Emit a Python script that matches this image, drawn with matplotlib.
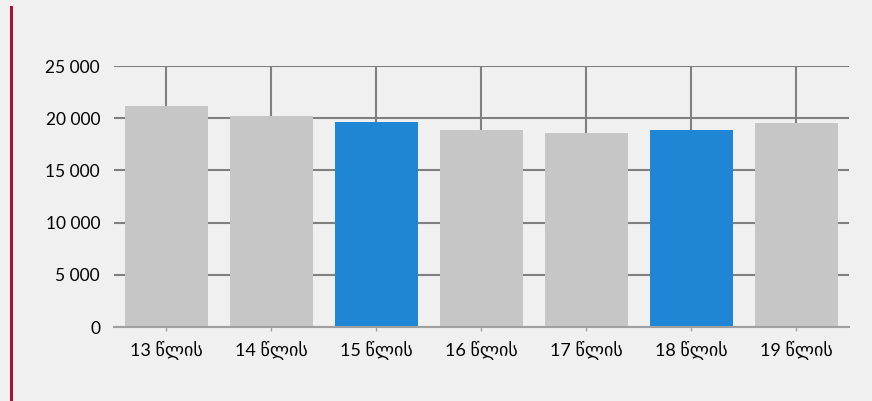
import matplotlib.pyplot as plt
from matplotlib.lines import Line2D
from matplotlib.ticker import FuncFormatter

plt.rcParams['font.family'] = ['Lato', 'DejaVu Sans']

# data
ages = ['13 წლის', '14 წლის', '15 წლის', '16 წლის', '17 წლის', '18 წლის', '19 წლის']
values = [21150, 20200, 19650, 18900, 18600, 18900, 19550]
highlight = [False, False, True, False, False, True, False]

bg = '#F0F0F0'
colors = ['#1F86D6' if h else '#C6C6C6' for h in highlight]

fig = plt.figure(figsize=(8.72, 4.01), dpi=100, facecolor=bg)
ax = fig.add_axes([0.1307, 0.1845, 0.8429, 0.6509])
ax.set_facecolor(bg)

x = range(len(ages))
ax.bar(x, values, width=0.79, color=colors, zorder=2)

ax.set_xlim(-0.5, len(ages) - 0.5)
ax.set_ylim(0, 25000)
ax.set_yticks(range(0, 25001, 5000))
ax.yaxis.set_major_formatter(FuncFormatter(lambda v, p: f'{int(v):,}'.replace(',', ' ')))
ax.set_xticks(list(x))
ax.set_xticklabels(ages)

ax.grid(True, color='#808080', linewidth=1.5, zorder=0)
ax.set_axisbelow(True)
for s in ['top', 'right', 'left']:
    ax.spines[s].set_visible(False)
ax.spines['bottom'].set_color('#A0A0A0')
ax.spines['bottom'].set_linewidth(1.5)

ax.tick_params(axis='y', length=0, pad=10, labelsize=12.5, colors='#000000')
ax.tick_params(axis='x', length=3, width=1, color='#A0A0A0', pad=7, labelsize=13)

# red accent bar on the left edge
fig.add_artist(Line2D([0.0126, 0.0126], [0.0, 0.983], color='#A8123F', linewidth=2.2))

fig.savefig('out.png', dpi=100, facecolor=bg)
